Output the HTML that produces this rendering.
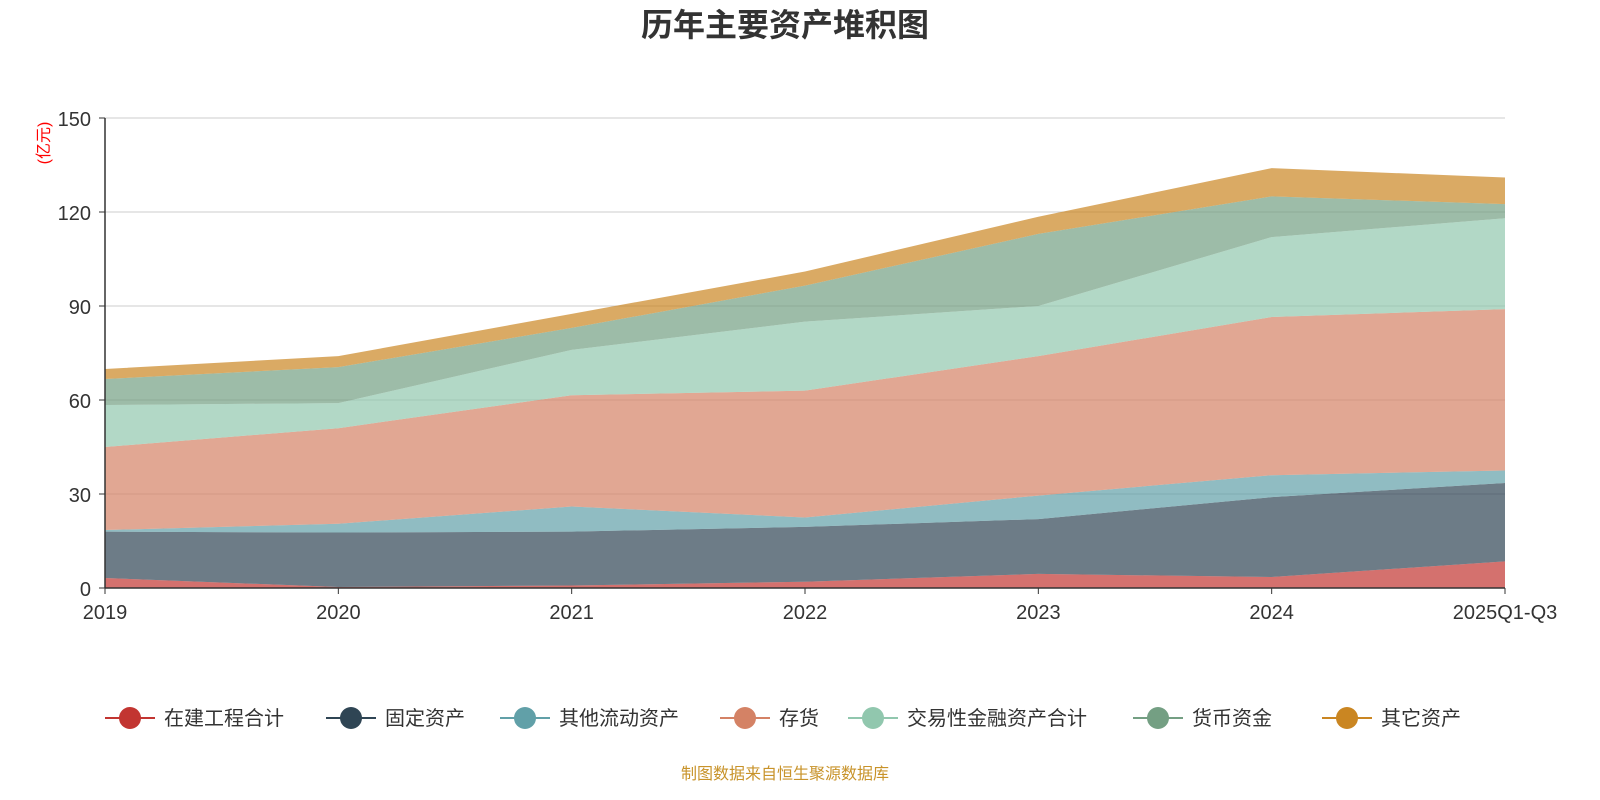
<!DOCTYPE html>
<html><head><meta charset="utf-8">
<style>
body{margin:0;background:#fff;}
svg{display:block;font-family:"Liberation Sans","Noto Sans CJK SC",sans-serif;}
</style></head>
<body>
<svg id="chart" width="1600" height="800" viewBox="0 0 1600 800">
<text x="785" y="36" text-anchor="middle" font-size="32" font-weight="bold" fill="#333">历年主要资产堆积图</text>
<text transform="translate(49,143) rotate(-90)" text-anchor="middle" font-size="16" fill="#f00">(亿元)</text>
<g id="grid"></g>
<g id="areas"></g>
<g id="axes"></g>
<g id="legend"></g>
<text x="785" y="779" text-anchor="middle" font-size="16" fill="#c8932a">制图数据来自恒生聚源数据库</text>
</svg>
<script>
const categories=["2019","2020","2021","2022","2023","2024","2025Q1-Q3"];
const seriesNames=["在建工程合计","固定资产","其他流动资产","存货","交易性金融资产合计","货币资金","其它资产"];
const s0=[3.2,0.3,0.8,2,4.5,3.5,8.5];
const s1=[14.8,17.4,17.2,17.5,17.5,25.5,25];
const s2=[0.5,2.8,8,3,7.5,7,4];
const s3=[26.5,30.5,35.5,40.5,44.5,50.5,51.5];
const s4=[13.4,8,14.5,22,16,25.5,29];
const s5=[8.3,11.5,7,11.5,23,13,4.5];
const s6=[3.2,3.5,4.5,4.5,5.5,9,8.5];
const yTicks=[0,30,60,90,120,150];
const colors=["#c23531","#2f4554","#61a0a8","#d48265","#91c7ae","#749f83","#ca8622"];
const series=[s0,s1,s2,s3,s4,s5,s6];
const NS="http://www.w3.org/2000/svg";
const x0=105,x1=1505,yb=588,yt=118,ymax=150;
const xs=i=>x0+i*(x1-x0)/(categories.length-1);
const ys=v=>yb-(v/ymax)*(yb-yt);
function mk(t,a,p){const e=document.createElementNS(NS,t);for(const k in a)e.setAttribute(k,a[k]);p.appendChild(e);return e;}
const grid=document.getElementById('grid'),areas=document.getElementById('areas'),axes=document.getElementById('axes'),legend=document.getElementById('legend');
yTicks.forEach(v=>{
 if(v>0){const g=mk('line',{x1:x0,x2:x1,y1:ys(v),y2:ys(v),stroke:'#ccc','stroke-width':1},grid);
 
 }
 const t=mk('text',{x:x0-14,y:ys(v)+8,'text-anchor':'end','font-size':20,fill:'#333'},axes);t.textContent=v;
 
 
 mk('line',{x1:x0-6,x2:x0,y1:ys(v),y2:ys(v),stroke:'#333'},axes);
});
let base=categories.map(()=>0);
series.forEach((s,si)=>{
 const top=base.map((b,i)=>b+s[i]);
 let d='';
 top.forEach((v,i)=>{d+=(i?'L':'M')+xs(i)+','+ys(v);});
 for(let i=base.length-1;i>=0;i--)d+='L'+xs(i)+','+ys(base[i]);
 const p=mk('path',{d:d+'Z',fill:colors[si],'fill-opacity':0.7},areas);
 
 
 base=top;
});
mk('line',{x1:x0,x2:x0,y1:yt,y2:yb,stroke:'#333','stroke-width':1.5},axes);
mk('line',{x1:x0,x2:x1,y1:yb,y2:yb,stroke:'#333','stroke-width':1.5},axes);
categories.forEach((c,i)=>{
 mk('line',{x1:xs(i),x2:xs(i),y1:yb,y2:yb+6,stroke:'#333'},axes);
 const t=mk('text',{x:xs(i),y:yb+31,'text-anchor':'middle','font-size':20,fill:'#333'},axes);t.textContent=c;
 
 
});
const lx=[105,326,500,720,848,1133,1322];
seriesNames.forEach((n,i)=>{
 const g=mk('g',{},legend);
 
 
 const x=lx[i];
 mk('line',{x1:x,x2:x+50,y1:718,y2:718,stroke:colors[i],'stroke-width':2},g);
 mk('circle',{cx:x+25,cy:718,r:11,fill:colors[i]},g);
 const t=mk('text',{x:x+59,y:725,'font-size':20,fill:'#333'},g);t.textContent=n;
});
</script>
</body></html>
